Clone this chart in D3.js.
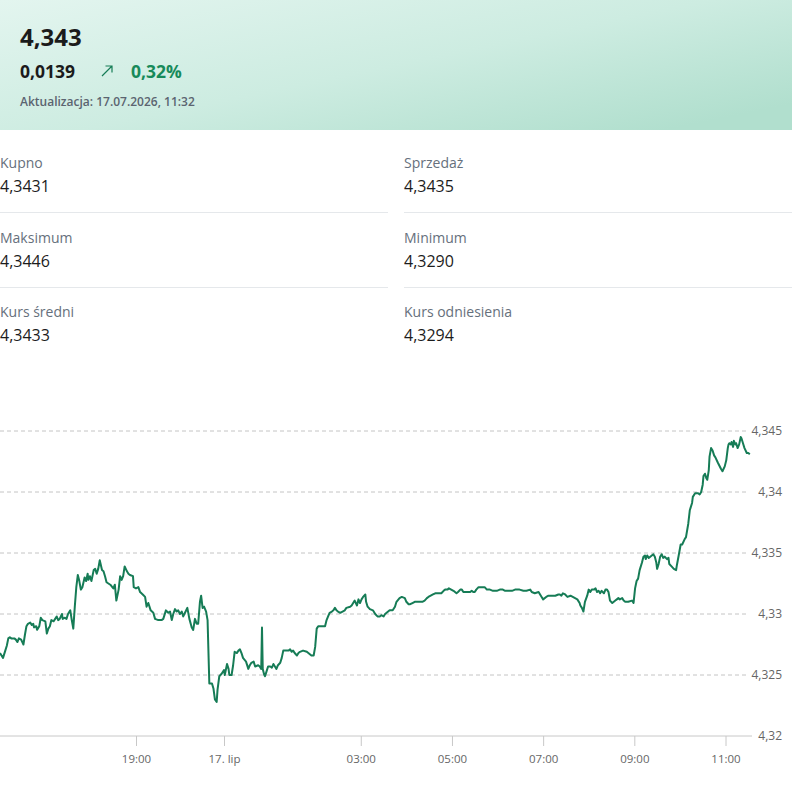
<!DOCTYPE html>
<html lang="pl">
<head>
<meta charset="utf-8">
<script src="https://cdn.jsdelivr.net/npm/d3@7"></script>
<style>
  body { margin: 0; background: #fff; }
  svg { display: block; font-family: "Open Sans", sans-serif; }
</style>
</head>
<body>
<script>
// header values
const rateNow = "4,343";
const changeAbs = "0,0139";
const changePct = "0,32%";
const updated = "Aktualizacja: 17.07.2026, 11:32";

// stats grid, left column then right column
const statLabels = ["Kupno", "Sprzedaż", "Maksimum", "Minimum", "Kurs średni", "Kurs odniesienia"];
const statValues = ["4,3431", "4,3435", "4,3446", "4,3290", "4,3433", "4,3294"];

// axis ticks
const yTicks = [4.32, 4.325, 4.33, 4.335, 4.34, 4.345];
const xTicks = ["16.07.2026 19:00", "17.07.2026 00:00", "17.07.2026 03:00", "17.07.2026 05:00",
                "17.07.2026 07:00", "17.07.2026 09:00", "17.07.2026 11:00"];
const xTickLabels = ["19:00", "17. lip", "03:00", "05:00", "07:00", "09:00", "11:00"];

// EUR/PLN quotes
const july16 = [
  ["16:00",4.3268],["16:02",4.3266],["16:04",4.3264],["16:07",4.3270],["16:09",4.3274],["16:11",4.3280],
  ["16:13",4.3281],["16:15",4.3280],["16:19",4.3280],["16:21",4.3279],["16:23",4.3277],["16:25",4.3280],
  ["16:28",4.3279],["16:31",4.3275],["16:33",4.3283],["16:35",4.3290],["16:37",4.3292],["16:40",4.3293],
  ["16:42",4.3291],["16:44",4.3292],["16:45",4.3289],["16:48",4.3290],["16:49",4.3287],["16:52",4.3290],
  ["16:54",4.3297],["16:56",4.3295],["17:00",4.3294],["17:02",4.3284],["17:04",4.3288],["17:06",4.3290],
  ["17:08",4.3295],["17:11",4.3294],["17:13",4.3296],["17:15",4.3298],["17:17",4.3295],["17:19",4.3296],
  ["17:22",4.3300],["17:23",4.3296],["17:26",4.3297],["17:28",4.3296],["17:30",4.3300],["17:33",4.3303],
  ["17:35",4.3295],["17:37",4.3288],["17:39",4.3306],["17:41",4.3322],["17:43",4.3332],["17:45",4.3327],
  ["17:47",4.3320],["17:49",4.3322],["17:52",4.3330],["17:54",4.3327],["17:56",4.3333],["17:57",4.3328],
  ["17:59",4.3331],["18:01",4.3327],["18:04",4.3336],["18:06",4.3337],["18:08",4.3333],["18:10",4.3337],
  ["18:12",4.3344],["18:15",4.3336],["18:17",4.3335],["18:19",4.3331],["18:21",4.3326],["18:26",4.3324],
  ["18:30",4.3321],["18:32",4.3324],["18:34",4.3311],["18:37",4.3320],["18:39",4.3331],["18:41",4.3328],
  ["18:43",4.3331],["18:45",4.3339],["18:48",4.3335],["18:50",4.3333],["18:52",4.3332],["18:56",4.3331],
  ["18:57",4.3322],["19:00",4.3321],["19:08",4.3322],["19:14",4.3318],["19:23",4.3316],["19:31",4.3314],
  ["19:36",4.3306],["19:42",4.3309],["19:50",4.3303],["19:59",4.3301],["20:05",4.3296],["20:16",4.3295],
  ["20:27",4.3295],["20:33",4.3296],["20:42",4.3303],["20:50",4.3301],["20:56",4.3302],["21:02",4.3295],
  ["21:07",4.3300],["21:13",4.3304],["21:19",4.3302],["21:24",4.3303],["21:30",4.3300],["21:36",4.3302],
  ["21:41",4.3298],["21:47",4.3301],["21:55",4.3305],["22:02",4.3296],["22:10",4.3289],["22:15",4.3287],
  ["22:21",4.3296],["22:27",4.3292],["22:32",4.3292],["22:38",4.3310],["22:42",4.3315],["22:47",4.3305],
  ["22:52",4.3306],["22:59",4.3302],["23:04",4.3295],["23:10",4.3243],["23:15",4.3243],["23:19",4.3243],
  ["23:24",4.3239],["23:29",4.3230],["23:35",4.3228],["23:38",4.3238],["23:44",4.3249],["23:52",4.3251]
];
const july17 = [
  ["00:00",4.3254],["00:01",4.3250],["00:04",4.3259],["00:06",4.3255],["00:07",4.3250],["00:10",4.3250],
  ["00:12",4.3258],["00:14",4.3269],["00:17",4.3268],["00:19",4.3270],["00:21",4.3271],["00:23",4.3268],
  ["00:25",4.3264],["00:29",4.3261],["00:32",4.3255],["00:34",4.3258],["00:36",4.3260],["00:39",4.3261],
  ["00:41",4.3257],["00:45",4.3258],["00:47",4.3257],["00:49",4.3255],["00:50",4.3289],["00:51",4.3255],
  ["00:53",4.3250],["00:54",4.3249],["00:56",4.3253],["00:58",4.3257],["01:01",4.3257],["01:03",4.3256],
  ["01:05",4.3259],["01:07",4.3257],["01:09",4.3255],["01:11",4.3258],["01:14",4.3260],["01:16",4.3264],
  ["01:18",4.3270],["01:20",4.3270],["01:22",4.3270],["01:25",4.3270],["01:27",4.3271],["01:29",4.3269],
  ["01:31",4.3270],["01:33",4.3268],["01:36",4.3266],["01:38",4.3268],["01:40",4.3269],["01:44",4.3270],
  ["01:49",4.3269],["01:51",4.3268],["01:53",4.3267],["01:55",4.3266],["01:58",4.3266],["02:00",4.3273],
  ["02:02",4.3288],["02:04",4.3290],["02:09",4.3290],["02:13",4.3290],["02:15",4.3295],["02:17",4.3298],
  ["02:19",4.3301],["02:22",4.3302],["02:24",4.3303],["02:26",4.3305],["02:28",4.3303],["02:30",4.3302],
  ["02:33",4.3301],["02:36",4.3302],["02:39",4.3303],["02:41",4.3305],["02:46",4.3306],["02:48",4.3307],
  ["02:50",4.3309],["02:52",4.3311],["02:55",4.3307],["02:57",4.3312],["02:59",4.3309],["03:01",4.3312],
  ["03:03",4.3314],["03:06",4.3316],["03:07",4.3310],["03:09",4.3306],["03:12",4.3304],["03:16",4.3303],
  ["03:19",4.3300],["03:22",4.3298],["03:25",4.3298],["03:27",4.3299],["03:30",4.3298],["03:32",4.3300],
  ["03:34",4.3301],["03:36",4.3302],["03:38",4.3303],["03:42",4.3303],["03:45",4.3306],["03:47",4.3310],
  ["03:51",4.3313],["03:54",4.3314],["03:58",4.3313],["04:00",4.3310],["04:03",4.3308],["04:05",4.3308],
  ["04:08",4.3309],["04:11",4.3310],["04:14",4.3310],["04:18",4.3310],["04:21",4.3310],["04:24",4.3311],
  ["04:27",4.3313],["04:29",4.3314],["04:32",4.3315],["04:35",4.3316],["04:38",4.3317],["04:42",4.3317],
  ["04:46",4.3317],["04:49",4.3319],["04:51",4.3320],["04:54",4.3320],["04:56",4.3321],["04:59",4.3320],
  ["05:02",4.3319],["05:04",4.3318],["05:06",4.3317],["05:08",4.3318],["05:11",4.3320],["05:13",4.3320],
  ["05:15",4.3318],["05:18",4.3318],["05:21",4.3318],["05:24",4.3318],["05:26",4.3319],["05:28",4.3318],
  ["05:30",4.3318],["05:32",4.3320],["05:35",4.3322],["05:37",4.3322],["05:41",4.3322],["05:43",4.3322],
  ["05:46",4.3320],["05:50",4.3320],["05:54",4.3319],["05:59",4.3319],["06:03",4.3320],["06:07",4.3320],
  ["06:10",4.3319],["06:14",4.3319],["06:19",4.3319],["06:23",4.3320],["06:27",4.3320],["06:29",4.3320],
  ["06:34",4.3319],["06:38",4.3319],["06:43",4.3320],["06:45",4.3318],["06:49",4.3317],["06:54",4.3318],
  ["06:56",4.3316],["06:58",4.3314],["07:00",4.3312],["07:04",4.3314],["07:07",4.3315],["07:11",4.3315],
  ["07:16",4.3315],["07:20",4.3316],["07:22",4.3316],["07:24",4.3315],["07:26",4.3317],["07:29",4.3316],
  ["07:32",4.3314],["07:36",4.3315],["07:39",4.3314],["07:42",4.3313],["07:45",4.3312],["07:48",4.3309],
  ["07:49",4.3307],["07:51",4.3305],["07:53",4.3302],["07:55",4.3310],["07:58",4.3315],["08:00",4.3320],
  ["08:02",4.3318],["08:04",4.3320],["08:07",4.3320],["08:09",4.3321],["08:11",4.3318],["08:13",4.3319],
  ["08:15",4.3317],["08:17",4.3319],["08:20",4.3317],["08:22",4.3320],["08:24",4.3320],["08:26",4.3318],
  ["08:28",4.3311],["08:31",4.3309],["08:33",4.3310],["08:35",4.3311],["08:37",4.3312],["08:39",4.3313],
  ["08:41",4.3312],["08:44",4.3313],["08:46",4.3311],["08:48",4.3310],["08:52",4.3310],["08:57",4.3311],
  ["08:59",4.3309],["09:01",4.3321],["09:03",4.3327],["09:05",4.3329],["09:07",4.3336],["09:10",4.3342],
  ["09:12",4.3347],["09:14",4.3348],["09:15",4.3345],["09:17",4.3348],["09:19",4.3346],["09:21",4.3347],
  ["09:23",4.3348],["09:25",4.3349],["09:27",4.3347],["09:29",4.3342],["09:30",4.3337],["09:32",4.3341],
  ["09:34",4.3347],["09:36",4.3349],["09:38",4.3346],["09:40",4.3347],["09:43",4.3345],["09:45",4.3346],
  ["09:46",4.3341],["09:49",4.3339],["09:52",4.3337],["09:55",4.3336],["09:56",4.3340],["09:59",4.3350],
  ["10:01",4.3357],["10:03",4.3357],["10:06",4.3361],["10:08",4.3363],["10:11",4.3374],["10:13",4.3385],
  ["10:14",4.3387],["10:16",4.3391],["10:17",4.3396],["10:20",4.3399],["10:22",4.3399],["10:24",4.3399],
  ["10:26",4.3398],["10:28",4.3400],["10:30",4.3406],["10:31",4.3413],["10:33",4.3415],["10:35",4.3411],
  ["10:36",4.3410],["10:38",4.3418],["10:39",4.3429],["10:41",4.3436],["10:43",4.3434],["10:45",4.3430],
  ["10:47",4.3428],["10:50",4.3424],["10:54",4.3419],["10:56",4.3417],["10:59",4.3421],["11:01",4.3426],
  ["11:03",4.3436],["11:04",4.3439],["11:05",4.3440],["11:07",4.3439],["11:08",4.3441],["11:10",4.3437],
  ["11:11",4.3442],["11:13",4.3439],["11:14",4.3440],["11:16",4.3436],["11:18",4.3439],["11:20",4.3445],
  ["11:21",4.3444],["11:23",4.3440],["11:25",4.3436],["11:28",4.3432],["11:30",4.3432],["11:32",4.3431]
];

const W = 792, H = 790;
const green = "#167c56";
const parse = d3.timeParse("%d.%m.%Y %H:%M");
const pl = d3.formatLocale({ decimal: ",", thousands: "\u00a0", grouping: [3], currency: ["", " zł"] });
const fmtY = pl.format("~g");

const data = july16.map(d => ({ date: parse("16.07.2026 " + d[0]), rate: d[1] }))
  .concat(july17.map(d => ({ date: parse("17.07.2026 " + d[0]), rate: d[1] })));

const svg = d3.select("body").append("svg")
  .attr("width", W)
  .attr("height", H);

// ---- header ----
const grad = svg.append("defs").append("linearGradient")
  .attr("id", "hdr")
  .attr("x1", 0).attr("y1", 0).attr("x2", 1).attr("y2", 0.8);
grad.append("stop").attr("offset", "0%").attr("stop-color", "#e3f5ef");
grad.append("stop").attr("offset", "55%").attr("stop-color", "#cdece1");
grad.append("stop").attr("offset", "100%").attr("stop-color", "#b1dfce");

svg.append("rect")
  .attr("width", W).attr("height", 130)
  .attr("fill", "url(#hdr)");

svg.append("text")
  .attr("x", 20).attr("y", 46)
  .style("font-size", "24px").style("font-weight", 700).attr("fill", "#1b1b1b")
  .text(rateNow);

svg.append("text")
  .attr("x", 20).attr("y", 78)
  .style("font-size", "17.5px").style("font-weight", 700).attr("fill", "#1b1b1b")
  .text(changeAbs);

// small "up" arrow
svg.append("path")
  .attr("d", "M102,76 L112,66 M105.5,66 L112,66 L112,72.5")
  .attr("fill", "none").attr("stroke", green).attr("stroke-width", 1.2);

svg.append("text")
  .attr("x", 131).attr("y", 78)
  .style("font-size", "17.5px").style("font-weight", 700).attr("fill", "#178a5a")
  .text(changePct);

svg.append("text")
  .attr("x", 20).attr("y", 106)
  .style("font-size", "12px").style("font-weight", 600).attr("fill", "#5b6470")
  .text(updated);

// ---- stats ----
const colX = [0, 404];
const rowY = [168, 243, 317];
statLabels.forEach((lab, i) => {
  const cx = colX[i % 2], ry = rowY[Math.floor(i / 2)];
  svg.append("text")
    .attr("x", cx).attr("y", ry)
    .style("font-size", "14px").attr("fill", "#66707c")
    .text(lab);
  svg.append("text")
    .attr("x", cx).attr("y", ry + 24)
    .style("font-size", "16px").style("font-weight", 500).attr("fill", "#1c1c1c")
    .text(statValues[i]);
});

[212.5, 287.5].forEach(sy => {
  svg.append("line").attr("x1", 0).attr("x2", 388).attr("y1", sy).attr("y2", sy)
    .attr("stroke", "#e5e8eb");
  svg.append("line").attr("x1", 404).attr("x2", W).attr("y1", sy).attr("y2", sy)
    .attr("stroke", "#e5e8eb");
});

// ---- chart ----
const plotRight = 750;

const y = d3.scaleLinear()
  .domain([4.32, 4.345])
  .range([736, 431]);

// ordinal-like time axis: the quiet evening hours are squeezed
const x = d3.scaleTime()
  .domain([parse("16.07.2026 16:00"), parse("16.07.2026 19:00"),
           parse("17.07.2026 00:00"), parse("17.07.2026 11:00")])
  .range([0, 136, 224, 725.5]);

const chart = svg.append("g");

chart.selectAll(".grid")
  .data(yTicks.slice(1))
  .join("line")
  .attr("class", "grid")
  .attr("x1", 0).attr("x2", plotRight - 2)
  .attr("y1", d => y(d)).attr("y2", d => y(d))
  .attr("stroke", "#c4c4c4")
  .attr("stroke-dasharray", "4,3");

chart.selectAll(".ylab")
  .data(yTicks)
  .join("text")
  .attr("class", "ylab")
  .attr("x", 782).attr("y", d => y(d))
  .attr("dy", "0.34em")
  .attr("text-anchor", "end")
  .style("font-size", "12px").attr("fill", "#666")
  .text(d => fmtY(d));

const xAxis = chart.append("g")
  .attr("transform", `translate(0,${y(4.32)})`)
  .call(d3.axisBottom(x)
    .tickValues(xTicks.map(parse))
    .tickFormat((d, i) => xTickLabels[i])
    .tickSize(10)
    .tickPadding(9));
xAxis.select(".domain").remove();
xAxis.selectAll(".tick line").attr("stroke", "#c8c8c8");
xAxis.selectAll(".tick text")
  .style("font-family", "'Open Sans', sans-serif")
  .style("font-size", "11.5px").attr("fill", "#666");

chart.append("line")
  .attr("x1", 0).attr("x2", plotRight + 2)
  .attr("y1", y(4.32)).attr("y2", y(4.32))
  .attr("stroke", "#c8c8c8");

const line = d3.line()
  .x(d => x(d.date))
  .y(d => y(d.rate));

chart.append("path")
  .datum(data)
  .attr("d", line)
  .attr("fill", "none")
  .attr("stroke", green)
  .attr("stroke-width", 2)
  .attr("stroke-linejoin", "round");
</script>
</body>
</html>
